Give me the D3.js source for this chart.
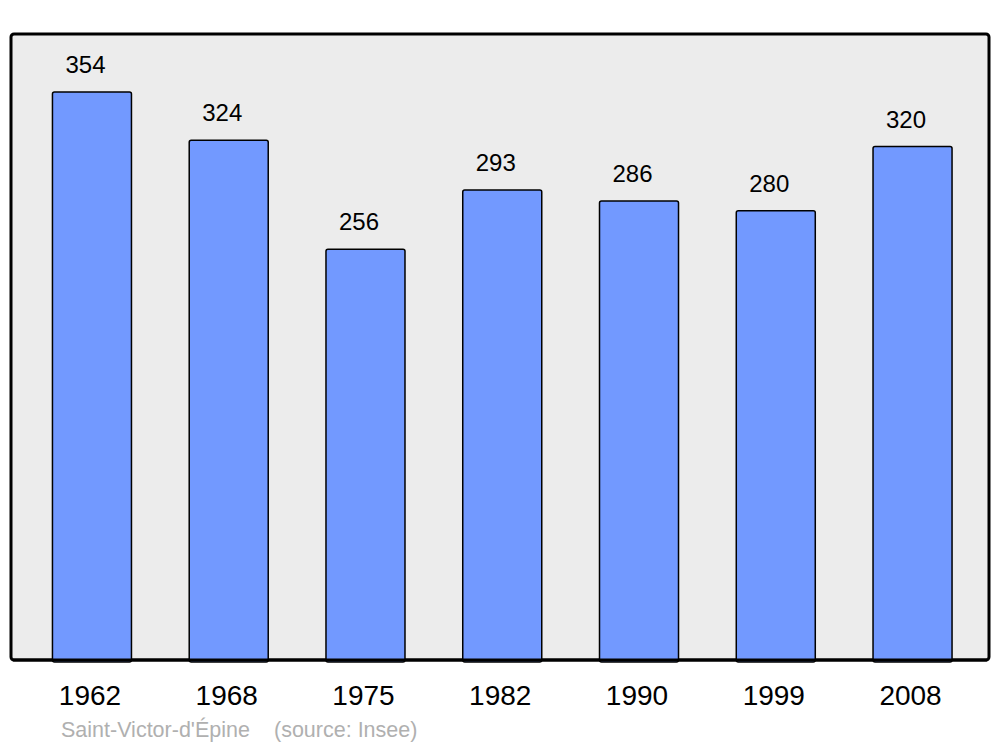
<!DOCTYPE html>
<html>
<head>
<meta charset="utf-8">
<script src="https://cdn.jsdelivr.net/npm/d3@7"></script>
<style>
  html, body { margin: 0; padding: 0; background: #fff; }
  svg { display: block; font-family: "Liberation Sans", Arial, sans-serif; }
</style>
</head>
<body>
<script>
const years = ["1962", "1968", "1975", "1982", "1990", "1999", "2008"];
const population = [354, 324, 256, 293, 286, 280, 320];
const commune = "Saint-Victor-d'Épine";
const source = "(source: Insee)";

const width = 1000, height = 747;
const panel = { x0: 11, y0: 34, x1: 989, y1: 660 };

const svg = d3.select("body").append("svg")
  .attr("width", width)
  .attr("height", height);

// background panel
svg.append("rect")
  .attr("x", panel.x0).attr("y", panel.y0)
  .attr("width", panel.x1 - panel.x0).attr("height", panel.y1 - panel.y0)
  .attr("rx", 3)
  .attr("fill", "#ececec")
  .attr("stroke", "#000")
  .attr("stroke-width", 3);

const x = d3.scaleBand()
  .domain(years)
  .range([23.6, 980.9])
  .paddingInner(0.4223)
  .paddingOuter(0.211);

// 354 -> 568px tall
const y = d3.scaleLinear()
  .domain([0, 354])
  .range([panel.y1, 92]);

const data = years.map((yr, i) => ({ year: yr, value: population[i] }));

svg.append("g").selectAll("rect")
  .data(data)
  .join("rect")
  .attr("x", d => x(d.year))
  .attr("y", d => y(d.value))
  .attr("width", x.bandwidth())
  .attr("height", d => y(0) - y(d.value) + 2)
  .attr("rx", 2)
  .attr("fill", "#7299ff")
  .attr("stroke", "#000")
  .attr("stroke-width", 1.5);

// redraw bottom border over bar feet
svg.append("line")
  .attr("x1", panel.x0 + 2).attr("x2", panel.x1 - 2)
  .attr("y1", panel.y1).attr("y2", panel.y1)
  .attr("stroke", "#000").attr("stroke-width", 3);

svg.append("g").selectAll("text")
  .data(data)
  .join("text")
  .attr("x", d => x(d.year) + x.bandwidth() / 2 - 6.5)
  .attr("y", d => y(d.value) - 19)
  .attr("text-anchor", "middle")
  .attr("font-size", 24)
  .attr("fill", "#000")
  .text(d => d.value);

// year labels
svg.append("g").selectAll("text")
  .data(years)
  .join("text")
  .attr("x", d => x(d) + x.bandwidth() / 2 - 2)
  .attr("y", 705)
  .attr("text-anchor", "middle")
  .attr("font-size", 28)
  .attr("fill", "#000")
  .text(d => d);

svg.append("text")
  .attr("x", 61).attr("y", 737)
  .attr("font-size", 21.5)
  .attr("fill", "#b0b0b0")
  .text(commune);

svg.append("text")
  .attr("x", 274).attr("y", 737)
  .attr("font-size", 21.5)
  .attr("fill", "#b0b0b0")
  .text(source);
</script>
</body>
</html>
